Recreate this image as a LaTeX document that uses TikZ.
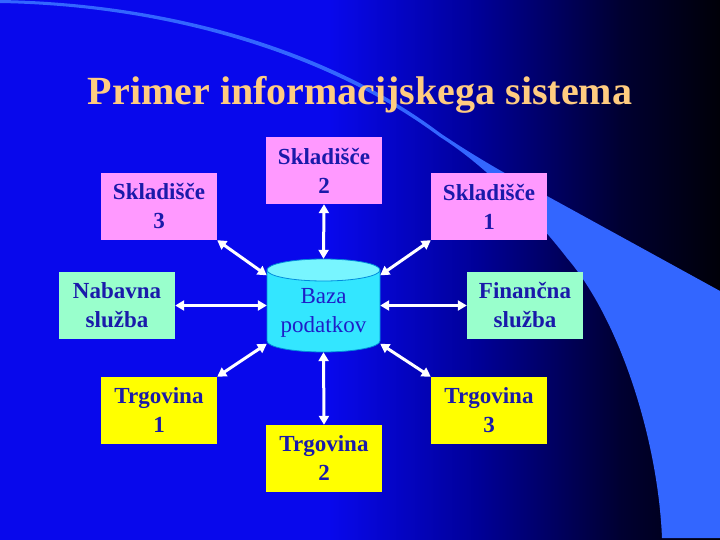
\documentclass[tikz,border=0pt]{standalone}
\usepackage{fontspec}
\setmainfont{Liberation Serif}
\usetikzlibrary{arrows.meta}
\definecolor{bgblue}{RGB}{8,8,236}
\definecolor{bgmid}{RGB}{0,0,150}
\definecolor{bgdark}{RGB}{0,0,50}
\definecolor{bgend}{RGB}{0,0,8}
\definecolor{bandc}{RGB}{51,102,255}
\definecolor{titlec}{RGB}{255,204,128}
\definecolor{pinkc}{RGB}{255,153,255}
\definecolor{aquac}{RGB}{153,255,204}
\definecolor{yellowc}{RGB}{255,255,0}
\definecolor{txtc}{RGB}{26,26,170}
\definecolor{dbtxt}{RGB}{30,30,200}
\definecolor{cylc}{RGB}{51,230,255}
\definecolor{cyltop}{RGB}{120,245,255}
\definecolor{cylline}{RGB}{0,140,220}
\tikzset{
  box/.style={minimum width=116pt,minimum height=67pt,inner sep=0pt,align=center,
    text=txtc,font=\fontsize{23}{29}\selectfont\bfseries},
  link/.style={draw=white,line width=3pt,{Triangle[length=9pt,width=10pt]}-{Triangle[length=9pt,width=10pt]}}
}
\begin{document}
\begin{tikzpicture}[x=1pt,y=-1pt]
\useasboundingbox (0,0) rectangle (720,540);
% background
\fill[bgblue] (0,0) rectangle (330,540);
\shade[left color=bgblue,right color=bgmid] (329.5,0) rectangle (480,540);
\shade[left color=bgmid,right color=bgdark] (479.5,0) rectangle (620,540);
\shade[left color=bgdark,right color=bgend] (619.5,0) rectangle (720,540);
% curved band
\fill[bandc] (0,0) .. controls (170,3) and (330,50) .. (440,133)
  .. controls (480,160) and (520,182) .. (547,196) -- (720,291)
  -- (720,538) -- (662,538)
  .. controls (658,440) and (620,320) .. (567,258)
  .. controls (530,210) and (480,162) .. (440,137)
  .. controls (330,55) and (170,6) .. (0,3) -- cycle;
% title
\node[text=titlec,font=\fontsize{40}{44}\selectfont\bfseries] (title) at (360,95) {Primer informacijskega sistema};
% boxes
\node[box,fill=pinkc] (s2) at (324,170.5) {Skladišče\\2};
\node[box,fill=pinkc] (s3) at (159,206.5) {Skladišče\\3};
\node[box,fill=pinkc] (s1) at (489,206.5) {Skladišče\\1};
\node[box,fill=aquac] (nab) at (117,305.5) {Nabavna\\služba};
\node[box,fill=aquac] (fin) at (525,305.5) {Finančna\\služba};
\node[box,fill=yellowc] (t1) at (159,410.5) {Trgovina\\1};
\node[box,fill=yellowc] (t3) at (489,410.5) {Trgovina\\3};
\node[box,fill=yellowc] (t2) at (324,458.5) {Trgovina\\2};
% database cylinder
\node[minimum width=113pt,minimum height=93pt,inner sep=0pt] (db) at (323.5,305.5) {};
\fill[cylc,draw=cylline,line width=0.8pt] (267,270) -- (267,341) arc[start angle=180,end angle=360,x radius=56.5,y radius=-11] -- (380,270) -- cycle;
\fill[cyltop,draw=cylline,line width=0.8pt] (323.5,270) ellipse[x radius=56.5,y radius=11];
\node[align=center,text=dbtxt,font=\fontsize{23}{29}\selectfont,inner sep=0pt] (dbtext) at (323.5,313) {Baza\\podatkov};
% connectors
\draw[link] (s2.south) -- (db.north);
\draw[link] (s3.south east) -- (db.152);
\draw[link] (s1.south west) -- (db.28);
\draw[link] (nab.east) -- (db.west);
\draw[link] (fin.west) -- (db.east);
\draw[link] (t1.north east) -- (db.214);
\draw[link] (t3.north west) -- (db.-34);
\draw[link] (t2.north) -- (db.south);
\end{tikzpicture}
\end{document}
